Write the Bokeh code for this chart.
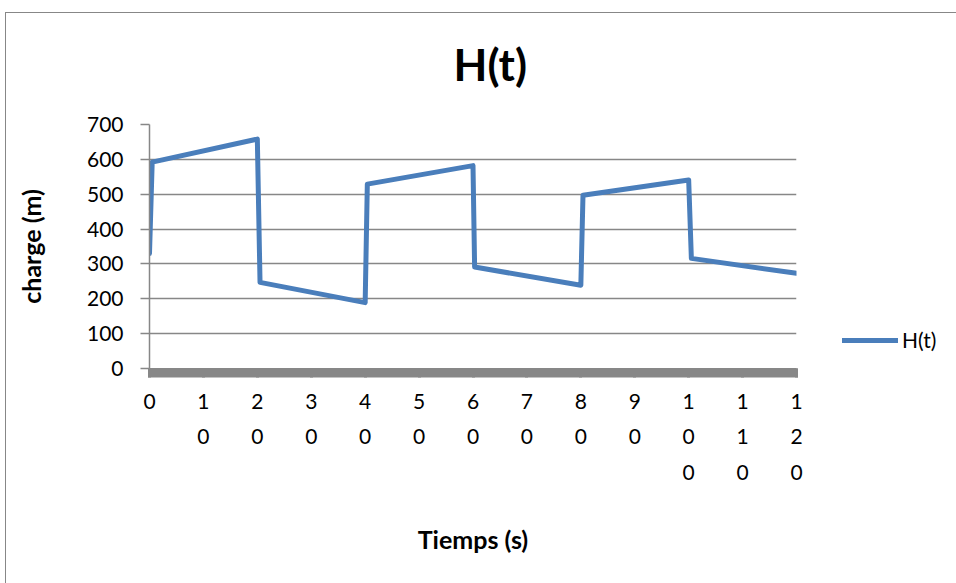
from bokeh.plotting import figure
from bokeh.models import Range1d, FixedTicker, Legend, LegendItem, Title
from bokeh.layouts import row
from bokeh.embed import file_html
from bokeh.resources import INLINE

# ---- data ----
time_s = [0, 0.5, 20, 20.5, 40, 40.4, 60, 60.3, 80, 80.4, 100, 100.5, 120]
charge_m = [330, 592, 658, 247, 189, 529, 582, 291, 239, 497, 541, 316, 273]
x_ticks = [0, 10, 20, 30, 40, 50, 60, 70, 80, 90, 100, 110, 120]
y_ticks = [0, 100, 200, 300, 400, 500, 600, 700]
series_name = "H(t)"
title_text = "H(t)"
x_label = "Tiemps (s)"
y_label = "charge (m)"

FONT = "Lato"
GRAY = "#878787"
BLUE = "#4a7ebb"

p = figure(
    width=800, height=570,
    output_backend="svg", toolbar_location=None,
    x_range=Range1d(0, 120), y_range=Range1d(0, 700),
    min_border_left=143, min_border_right=10,
    min_border_top=111, min_border_bottom=215,
    title=None,
)
p.outline_line_color = None
p.background_fill_color = "white"
p.border_fill_color = "white"

t = Title(text=title_text, align="left", text_font=FONT, text_font_size="44px",
          text_font_style="bold", text_color="black", standoff=56, offset=304)
try:
    t.padding = (0, 0, 0, 35)
    t.standoff = 0
except Exception:
    pass
p.add_layout(t, "above")

r = p.line(time_s, charge_m, line_color=BLUE, line_width=5, line_join="round", line_cap="round")

xa = p.below[0]
ya = p.left[0]

# x axis: dense category ticks form a gray band
minor = [i * 0.5 for i in range(0, 241)]
xa.ticker = FixedTicker(ticks=x_ticks, minor_ticks=minor)
xa.major_label_overrides = {v: "\n".join(str(v)) for v in x_ticks}
xa.axis_line_color = GRAY
xa.major_tick_line_color = GRAY
xa.minor_tick_line_color = GRAY
xa.major_tick_line_width = 3
xa.minor_tick_line_width = 3
xa.major_tick_in = 0
xa.minor_tick_in = 0
xa.major_tick_out = 9
xa.minor_tick_out = 9
xa.major_label_text_font = FONT
xa.major_label_text_font_size = "21px"
xa.major_label_text_color = "black"
xa.major_label_text_line_height = 1.43
xa.major_label_standoff = 10
xa.axis_label = x_label
xa.axis_label_text_font = FONT
xa.axis_label_text_font_size = "25px"
xa.axis_label_text_font_style = "bold"
xa.axis_label_text_color = "black"
xa.axis_label_standoff = 37

ya.ticker = FixedTicker(ticks=y_ticks)
ya.axis_line_color = GRAY
ya.axis_line_width = 1.5
ya.major_tick_line_color = GRAY
ya.major_tick_line_width = 1.5
ya.major_tick_in = 0
ya.major_tick_out = 9
ya.minor_tick_line_color = None
ya.major_label_text_font = FONT
ya.major_label_text_font_size = "21px"
ya.major_label_text_color = "black"
ya.major_label_standoff = 17
ya.axis_label = y_label
ya.axis_label_text_font = FONT
ya.axis_label_text_font_size = "25px"
ya.axis_label_text_font_style = "bold"
ya.axis_label_text_color = "black"
ya.axis_label_standoff = 38

p.xgrid.grid_line_color = None
p.ygrid.grid_line_color = GRAY
p.ygrid.grid_line_width = 1.5
p.ygrid.ticker = FixedTicker(ticks=y_ticks)

# legend area (a separate, axis-less canvas to the right of the plot)
pl = figure(width=150, height=570, output_backend="svg", toolbar_location=None,
            x_axis_type=None, y_axis_type=None,
            min_border_left=0, min_border_right=0, min_border_top=0, min_border_bottom=0,
            x_range=Range1d(0, 1), y_range=Range1d(0, 1), title=None)
pl.outline_line_color = None
pl.xgrid.visible = False
pl.ygrid.visible = False
pl.background_fill_color = "white"
pl.border_fill_color = "white"
# same series, used only as the legend's key (its values lie outside this canvas's view)
proxy = pl.line(time_s, charge_m, line_color=BLUE, line_width=5, line_cap="round")

legend = Legend(items=[LegendItem(label=series_name, renderers=[proxy])],
                location=(36, 16), orientation="vertical",
                border_line_color=None, background_fill_alpha=0,
                padding=0, margin=0, spacing=0,
                glyph_width=56, glyph_height=20, label_height=20,
                label_standoff=4,
                label_text_font=FONT, label_text_font_size="21px",
                label_text_color="black")
pl.add_layout(legend, "center")

layout = row(p, pl)
layout.styles = {
    "margin-left": "5px", "margin-top": "12px",
    "border-left": "1px solid #878787", "border-top": "1px solid #878787",
}

open("out.html", "w").write(file_html(layout, INLINE))
